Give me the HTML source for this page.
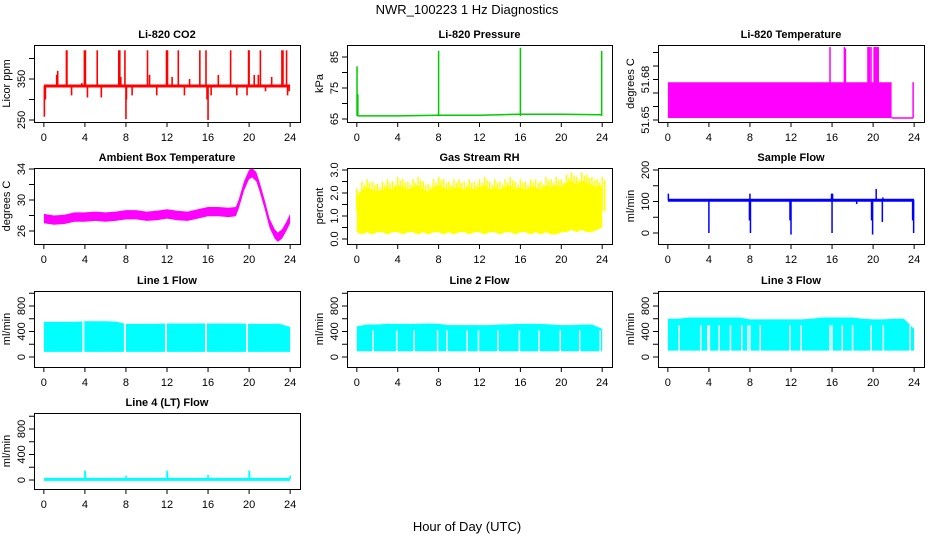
<!DOCTYPE html>
<html><head><meta charset="utf-8"><style>
html,body{margin:0;padding:0;background:#fff}
svg{display:block;font-family:"Liberation Sans",sans-serif}
</style></head><body>
<svg id="c" width="936" height="540" viewBox="0 0 936 540" xmlns="http://www.w3.org/2000/svg">
<rect width="936" height="540" fill="#fff"/>
<text x="467" y="14" text-anchor="middle" font-size="13">NWR_100223 1 Hz Diagnostics</text>
<text x="467" y="531" text-anchor="middle" font-size="13">Hour of Day (UTC)</text>
</svg>
<script>
// ---- data ----
const co2Base = 333;
const co2SpikeHours = [0.05,0.15,1.25,1.35,2.2,2.25,2.7,3.7,3.95,4.05,4.25,5.2,5.6,6.2,7.3,7.4,7.5,7.9,8.0,8.05,8.6,10.1,10.3,11.0,11.95,12.05,12.5,13.1,13.7,14.2,15.2,15.8,15.9,16.0,16.3,17.0,18.2,18.8,19.8,19.95,20.0,20.5,20.9,21.1,21.6,22.2,23.2,23.3,23.65,23.75,23.9];
const co2SpikeVals  = [258,300,360,370,420,420,310,340,420,420,305,420,305,330,420,420,355,420,252,300,310,420,360,310,420,420,355,420,310,350,420,420,300,250,310,360,420,310,310,420,420,360,360,420,320,355,420,420,420,310,320];
const presHours = [0.05,1,4,8,12,14,16,20,23.9];
const presBase  = [66,66,66,66.2,66.2,66.4,66.5,66.5,66.4];
const presSpikeHours = [0.02,0.1,8.0,16.0,23.95];
const presSpikeVals  = [82,73,87,88,87];
const tempBandHours = [0,21.8];
const tempBandLo = 51.6515, tempBandHi = 51.678;
const tempLowHours = [21.8,23.9];
const tempSpikeHours = [15.8,17.2,17.3,19.5,19.55,19.6,19.65,19.8,20.1,20.15,20.2,20.3,20.4,20.5,23.9];
const tempSpikeVals  = [51.704,51.704,51.703,51.704,51.704,51.704,51.704,51.704,51.704,51.704,51.704,51.704,51.704,51.704,51.678];
const ambHours = [0,1,2,3,4,5,6,7,8,9,10,11,12,13,14,15,16,17,18,18.7,19,19.5,20,20.3,20.7,21,21.5,22,22.5,22.8,23.2,23.6,24];
const ambMid   = [27.6,27.4,27.5,27.8,27.8,27.9,27.8,27.9,28.1,28.1,27.9,28.0,28.2,28.0,27.9,28.2,28.5,28.5,28.4,28.5,29.5,31.8,33.3,33.5,33.0,31.8,29.5,27.0,25.6,25.2,25.6,26.5,27.6];
const rhHi = [2.2,2.5,2.6,2.5,2.4,2.5,2.6, 2.5,2.7,2.6,2.5,2.6,2.7,2.5, 2.4,2.6,2.7,2.6,2.5,2.6,2.6, 2.5,2.6,2.5,2.6,2.7,2.5,2.6, 2.5,2.6,2.7,2.5,2.6,2.5,2.6, 2.6,2.5,2.7,2.6,2.7,2.6,2.8, 2.9,2.7,2.9,2.8,2.7,2.6,2.7];
const rhLo = [0.3,0.2,0.3,0.2,0.3,0.3,0.2, 0.3,0.3,0.2,0.3,0.3,0.2,0.3, 0.2,0.3,0.3,0.2,0.3,0.2,0.3, 0.3,0.2,0.3,0.3,0.2,0.3,0.3, 0.2,0.3,0.3,0.2,0.3,0.3,0.2, 0.3,0.2,0.3,0.2,0.2,0.3,0.3, 0.4,0.3,0.4,0.3,0.3,0.4,0.5];
const sfBase = 104;
const sfSpikeHours = [0.05,4.0,7.95,8.0,8.05,11.9,12.0,15.95,16.0,16.05,18.4,19.85,19.95,20.3,20.9,20.95,23.85,23.95];
const sfSpikeVals  = [125,0,40,125,0,40,-5,125,0,125,92,40,-5,140,35,113,40,0];
const hourly = [0,1,2,3,4,5,6,7,8,9,10,11,12,13,14,15,16,17,18,19,20,21,22,23,24];
const l1Hi = [550,550,550,550,560,560,560,555,520,520,520,520,525,525,525,525,525,525,525,525,520,520,520,520,470];
const l1Lo = 80;
const l1Gaps = [3.85,7.9,11.9,15.8,19.8];
const l2Hi = [480,510,510,520,520,520,520,525,520,500,500,500,500,500,510,515,520,520,520,510,500,500,510,510,440];
const l2Lo = 90;
const l2Gaps = [1.6,3.9,5.6,7.9,8.8,10.8,11.9,13.8,15.9,17.8,19.9,21.8,23.8];
const l3Hi = [600,600,620,620,620,620,620,620,590,590,590,590,590,590,600,620,620,620,620,600,590,590,600,600,440];
const l3Lo = 100;
const l3Gaps = [1.1,3.2,3.9,4.05,5.0,6.1,7.2,7.8,8.0,9.0,11.9,13.0,15.8,16.0,17.0,18.0,19.8,21.0,23.6];
const l4Base = 10;
const l4SpikeHours = [4,4.05,8,12,12.05,16,20,20.05,24];
const l4SpikeVals  = [150,130,70,150,120,80,150,130,70];

// ---- layout ----
const NS = 'http://www.w3.org/2000/svg';
const svg = document.getElementById('c');
const cols = [[34,300],[347,612],[658,924]];
const rows = [[45,122],[168,244],[291,367],[413,489]];
function mk(tag, attrs, parent){
  const e = document.createElementNS(NS, tag);
  for (const k in attrs) e.setAttribute(k, attrs[k]);
  (parent||svg).appendChild(e);
  return e;
}
function panel(ci, ri, name, title, ylab, ref, ticks, labels){
  const [L,R] = cols[ci], [T,B] = rows[ri];
  const g = mk('g', {});
  
  
  const w = R-L, inner = w/1.08, pad = (w-inner)/2;
  const sx = h => L + pad + h/24*inner;
  const k = (ref[3]-ref[1])/(ref[2]-ref[0]);
  const sy = v => ref[1] + (v-ref[0])*k;
  const t = mk('text', {x:(L+R)/2, y:T-7, 'text-anchor':'middle', 'font-size':11, 'font-weight':'bold'}, g);
  t.textContent = title;
  
  
  const yl = mk('text', {x:0, y:0, 'text-anchor':'middle', 'font-size':11, transform:`translate(${L-24},${(T+B)/2}) rotate(-90)`}, g);
  yl.textContent = ylab;
  
  
  const plot = mk('g', {}, g);
  
  
  const ax = mk('g', {stroke:'#000', 'stroke-width':1, fill:'none'}, g);
  
  
  mk('rect', {x:L+0.5, y:T+0.5, width:w, height:B-T}, ax);
  for (let h=0; h<=24; h+=4){
    mk('line', {x1:sx(h), y1:B, x2:sx(h), y2:B+5}, ax);
    const tl = mk('text', {x:sx(h), y:B+19, 'text-anchor':'middle', 'font-size':11, fill:'#000', stroke:'none'}, g);
    tl.textContent = h;
    
    
  }
  ticks.forEach(v => {
    mk('line', {x1:L-5, y1:sy(v), x2:L, y2:sy(v)}, ax);
  });
  labels.forEach(v => {
    const s = typeof v === 'string' ? v : String(v);
    const tl = mk('text', {x:0, y:0, 'text-anchor':'middle', 'font-size':11, transform:`translate(${L-9},${sy(parseFloat(s))}) rotate(-90)`}, g);
    tl.textContent = s;
    
    
  });
  return {sx, sy, plot, L, R, T, B};
}
function line(p, hs, vs, color, wd){
  const d = hs.map((h,i)=>(i?'L':'M')+p.sx(h).toFixed(1)+','+p.sy(vs[i]).toFixed(1)).join('');
  const e = mk('path', {d, stroke:color, 'stroke-width':wd, fill:'none'}, p.plot);
  
  
}
function spikes(p, base, hs, vs, color, wd){
  hs.forEach((h,i)=>{
    const e = mk('line', {x1:p.sx(h), x2:p.sx(h), y1:p.sy(base), y2:p.sy(vs[i]), stroke:color, 'stroke-width':wd}, p.plot);
    
    
  });
}
function band(p, hs, lo, hi, color){
  const up = hs.map((h,i)=>p.sx(h).toFixed(1)+','+p.sy(hi[i]).toFixed(1));
  const dn = hs.map((h,i)=>p.sx(h).toFixed(1)+','+p.sy(lo[i]).toFixed(1)).reverse();
  const e = mk('polygon', {points: up.concat(dn).join(' '), fill:color}, p.plot);
  
  
}
function gaps(p, hs, lo, top, wd){
  hs.forEach(h=>{
    const e = mk('line', {x1:p.sx(h), x2:p.sx(h), y1:p.sy(lo), y2:p.sy(top), stroke:'#fff', 'stroke-width':wd}, p.plot);
    
    
  });
}
const flowTicks = [0,200,400,600,800,1000], flowLabels = [0,400,800];

// CO2
let p = panel(0,0,'co2','Li-820 CO2','Licor ppm',[250,120,350,79],[250,300,350,400],[250,350]);
spikes(p, co2Base, co2SpikeHours, co2SpikeVals, '#f00', 1.6);
line(p, [0,24], [co2Base,co2Base], '#f00', 3);

// Pressure
p = panel(1,0,'pressure','Li-820 Pressure','kPa',[65,119,85,57],[65,70,75,80,85],[65,75,85]);
line(p, presHours, presBase, '#0c0', 1.5);
spikes(p, 66, presSpikeHours, presSpikeVals, '#0c0', 1.5);

// Li-820 temperature
p = panel(2,0,'li820-temperature','Li-820 Temperature','degrees C',[51.65,120,51.68,79.5],[51.65,51.66,51.67,51.68,51.69,51.70],['51.65','51.68']);
band(p, tempBandHours, [tempBandLo,tempBandLo], [tempBandHi,tempBandHi], '#f0f');
line(p, tempLowHours, [tempBandLo,tempBandLo], '#f0f', 1.5);
spikes(p, tempBandLo, tempSpikeHours, tempSpikeVals, '#f0f', 1.5);

// Ambient
p = panel(0,1,'ambient-temperature','Ambient Box Temperature','degrees C',[34,169,26,231],[26,28,30,32,34],[26,30,34]);
band(p, ambHours, ambMid.map(v=>v-0.6), ambMid.map(v=>v+0.6), '#f0f');

// RH
p = panel(1,1,'gas-stream-rh','Gas Stream RH','percent',[3,170,0,239],[0,0.5,1,1.5,2,2.5,3],['0.0','1.0','2.0','3.0']);
const rhHours = rhHi.map((_,i)=>i*0.5);
band(p, rhHours, rhLo, rhHi.map(v=>v-0.35), '#ff0');
spikes(p, 1.2, rhHours, rhHi, '#ff0', 1.5);
spikes(p, 1.2, rhHours.map(h=>h+0.25), rhHi.map(v=>v-0.15), '#ff0', 1.5);

// Sample flow
p = panel(2,1,'sample-flow','Sample Flow','ml/min',[200,170,0,233],[0,50,100,150,200],[0,100,200]);
line(p, [0,24], [sfBase,sfBase], '#00f', 3);
spikes(p, sfBase, sfSpikeHours, sfSpikeVals, '#00f', 1.5);

// Line flows
p = panel(0,2,'line1-flow','Line 1 Flow','ml/min',[0,357,800,306],flowTicks,flowLabels);
band(p, hourly, hourly.map(()=>l1Lo), l1Hi, '#0ff');
gaps(p, l1Gaps, l1Lo-10, 560, 2);
p = panel(1,2,'line2-flow','Line 2 Flow','ml/min',[0,357,800,306],flowTicks,flowLabels);
band(p, hourly, hourly.map(()=>l2Lo), l2Hi, '#0ff');
gaps(p, l2Gaps, l2Lo-10, 420, 1.5);
p = panel(2,2,'line3-flow','Line 3 Flow','ml/min',[0,357,800,306],flowTicks,flowLabels);
band(p, hourly, hourly.map(()=>l3Lo), l3Hi, '#0ff');
gaps(p, l3Gaps, l3Lo-10, 500, 1.5);
p = panel(0,3,'line4-flow','Line 4 (LT) Flow','ml/min',[0,480,800,429],flowTicks,flowLabels);
line(p, [0,24], [l4Base,l4Base], '#0ff', 3);
spikes(p, l4Base, l4SpikeHours, l4SpikeVals, '#0ff', 1.5);
</script>
</body></html>
